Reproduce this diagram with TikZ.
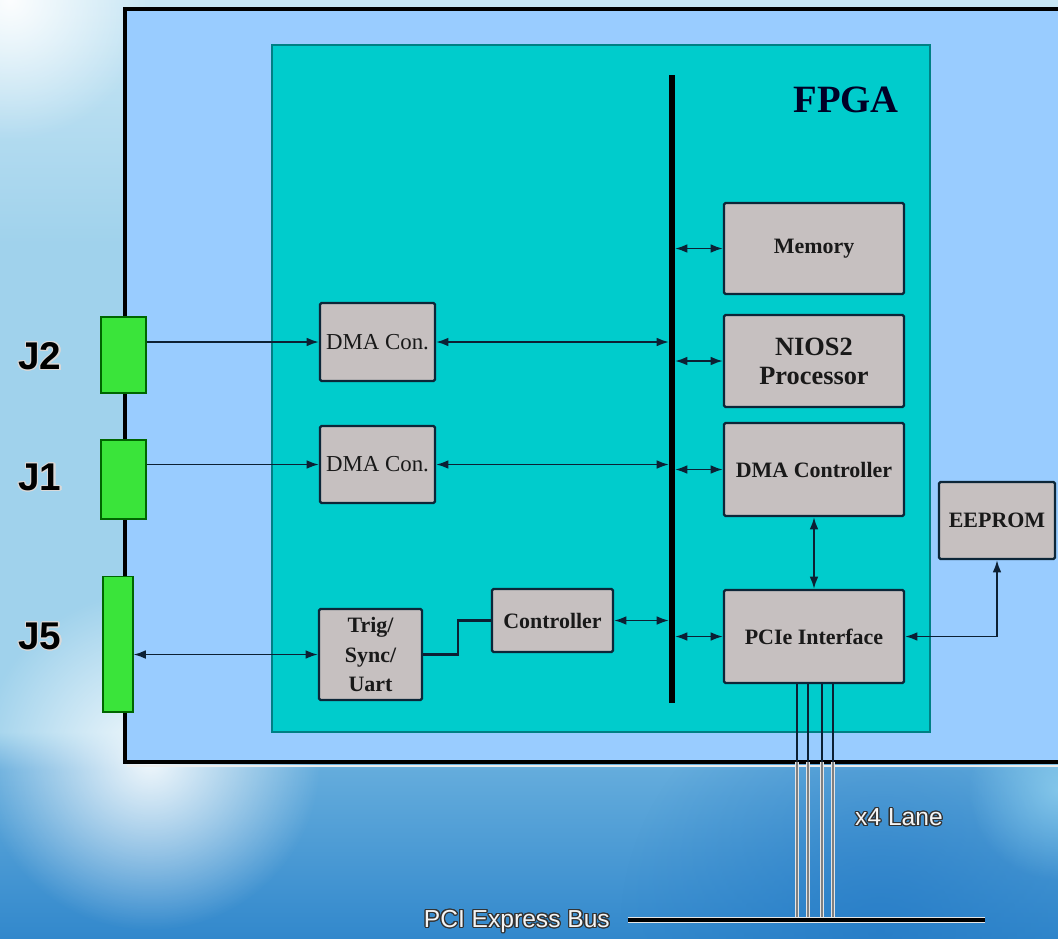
\documentclass[tikz,border=0pt]{standalone}
\usepackage{fontspec}
\setmainfont{Liberation Serif}
\newfontfamily\boardsans{Liberation Sans}
\usepackage{xcolor}
\usepackage{contour}
\definecolor{boardblue}{RGB}{153,204,255}
\definecolor{fpgateal}{RGB}{0,204,204}
\definecolor{fpgaedge}{RGB}{0,128,132}
\definecolor{blockgray}{RGB}{198,192,192}
\definecolor{blockedge}{RGB}{12,38,56}
\definecolor{jackgreen}{RGB}{58,228,58}
\definecolor{wirenavy}{RGB}{12,32,52}
\definecolor{skytop}{RGB}{200,230,244}
\definecolor{skylow}{RGB}{160,210,236}
\definecolor{seaTop}{RGB}{100,172,220}
\definecolor{seaLow}{RGB}{50,136,204}
\definecolor{seaRight}{RGB}{36,122,198}
\usetikzlibrary{arrows.meta, positioning, calc, fadings}
\tikzfading[name=glow, inner color=transparent!0, outer color=transparent!100]
\pgfdeclareverticalshading{backdrop}{100bp}{
  color(0bp)=(seaLow); color(25bp)=(seaLow); color(34bp)=(seaTop);
  color(36bp)=(skylow); color(62bp)=(skylow); color(75bp)=(skytop);
  color(100bp)=(skytop)}
\contourlength{0.7pt}
\tikzset{
  block/.style={
    rectangle, draw=blockedge, line width=1.3pt, fill=blockgray,
    rounded corners=0.8pt, align=center, inner sep=1pt,
    text=black!90, font=\fontsize{12.5}{17}\selectfont\bfseries
  },
  jack/.style={
    rectangle, draw=black!60!green, line width=0.6pt, fill=jackgreen,
    inner sep=0pt
  },
  jlabel/.style={
    font=\boardsans\fontsize{22}{24}\selectfont\bfseries, text=black
  },
  lanelabel/.style={
    font=\boardsans\fontsize{14}{16}\selectfont, text=white!92!gray
  },
  arrow/.style={-{Latex[length=7pt,width=5pt]}, draw=wirenavy, line width=1pt},
  biarrow/.style={{Latex[length=7pt,width=5pt]}-{Latex[length=7pt,width=5pt]}, draw=wirenavy, line width=1pt},
  wire/.style={draw=wirenavy, line width=1.3pt},
  lane/.style={draw=wirenavy, line width=0.8pt},
  laneout/.style={draw=white!80!gray, double=black!50, double distance=0.8pt, line width=0.6pt},
  pcibus/.style={draw=white!80!gray, double=black, double distance=2.2pt, line width=0.6pt},
}

\begin{document}
\begin{tikzpicture}[x=0.02cm, y=-0.02cm]
  \useasboundingbox (0,0) rectangle (1058,938);
  \clip (0,0) rectangle (1058,938);

  % backdrop
  \shade [shading=backdrop] (0,0) rectangle (1058,938);
  \fill [seaRight, path fading=glow, opacity=0.7] (880,930) circle (260);
  \fill [white, path fading=glow, opacity=0.95] (10,0) circle (140);
  \fill [white, path fading=glow, opacity=0.9] (150,760) circle (170);
  \fill [cyan!35!white, path fading=glow, opacity=0.55] (1058,790) circle (90);

  % board and FPGA
  \draw [fill=boardblue, line width=2.8pt, draw=black] (125,9) rectangle (1090,762);
  \draw [white!85!gray, line width=0.8pt] (127,766) -- (1058,766);
  \draw [fill=fpgateal, draw=fpgaedge, line width=1.2pt] (272,45) rectangle (930,732);
  \node (fpgalbl) at (846,100) {\fontsize{22}{24}\selectfont\bfseries\color{black!85!blue}FPGA};

  \node (bus)    [fill=black, inner sep=0pt, minimum width=0.11cm, minimum height=12.56cm] at (672,389) {};
  \node (mem)    [block, minimum width=3.6cm, minimum height=1.82cm] at (814,248.5) {Memory};
  \node (nios)   [block, minimum width=3.6cm, minimum height=1.84cm, font=\fontsize{15}{16.5}\selectfont\bfseries] at (814,361) {NIOS2\\Processor};
  \node (dmac)   [block, minimum width=3.6cm, minimum height=1.86cm] at (814,469.5) {DMA Controller};
  \node (pcie)   [block, minimum width=3.6cm, minimum height=1.86cm] at (814,636.5) {PCIe Interface};
  \node (eeprom) [block, minimum width=2.32cm, minimum height=1.54cm] at (997,520.5) {EEPROM};
  \node (dma1)   [block, minimum width=2.3cm, minimum height=1.56cm, font=\fontsize{13}{15}\selectfont] at (377.5,342) {DMA Con.};
  \node (dma2)   [block, minimum width=2.3cm, minimum height=1.54cm, font=\fontsize{13}{15}\selectfont] at (377.5,464.5) {DMA Con.};
  \node (trig)   [block, minimum width=2.06cm, minimum height=1.82cm] at (370.5,654.5) {Trig/\\Sync/\\Uart};
  \node (ctrl)   [block, minimum width=2.42cm, minimum height=1.26cm] at (552.5,620.5) {Controller};

  \node (j2) [jack, minimum width=0.9cm, minimum height=1.52cm] at (123.5,355) {};
  \node (j1) [jack, minimum width=0.9cm, minimum height=1.58cm] at (123.5,479.5) {};
  \node (j5) [jack, minimum width=0.6cm, minimum height=2.72cm] at (118,644) {};
  \node (j2lbl) [jlabel] at (40,357) {\contour{white!70!gray}{J2}};
  \node (j1lbl) [jlabel] at (40,478) {\contour{white!70!gray}{J1}};
  \node (j5lbl) [jlabel] at (40,637) {\contour{white!70!gray}{J5}};

  \draw [arrow]   (j2.east |- dma1.west) -- (dma1.west);
  \draw [arrow]   (j1.east |- dma2.west) -- (dma2.west);
  \draw [biarrow] (j5.east |- trig.west) -- (trig.west);
  \draw [biarrow] (dma1.east) -- (dma1.east -| bus.west);
  \draw [biarrow] (dma2.east) -- (dma2.east -| bus.west);
  \draw [biarrow] (ctrl.east) -- (ctrl.east -| bus.west);
  \draw [biarrow] (bus.east |- mem.west)  -- (mem.west);
  \draw [biarrow] (bus.east |- nios.west) -- (nios.west);
  \draw [biarrow] (bus.east |- dmac.west) -- (dmac.west);
  \draw [biarrow] (bus.east |- pcie.west) -- (pcie.west);
  \draw [biarrow] (dmac.south) -- (pcie.north);
  \draw [biarrow] (pcie.east) -| (eeprom.south);
  \draw [wire]    (trig.east) -- ++(35,0) |- (ctrl.west);

  % x4 lanes down to the bus
  \coordinate (boardbot) at (0,762);
  \coordinate (pcibusL) at (628,920);
  \coordinate (pcibusR) at (985,920);
  \foreach \lx [count=\i] in {797,808,822,833} {
    \coordinate (lane\i) at (\lx,919);
  }
  \foreach \i in {1,...,4} {
    \draw [laneout] (lane\i |- boardbot) -- (lane\i);
    \draw [lane]    (lane\i |- pcie.south) -- (lane\i |- boardbot);
  }
  \draw [pcibus] (pcibusL) -- (pcibusR);
  \node (lanelbl) [lanelabel] at (899,818) {\contour{black!80}{x4 Lane}};
  \node (buslbl)  [lanelabel, anchor=east] at (616,922) {\contour{black!80}{PCI Express Bus}};
\end{tikzpicture}
\end{document}
